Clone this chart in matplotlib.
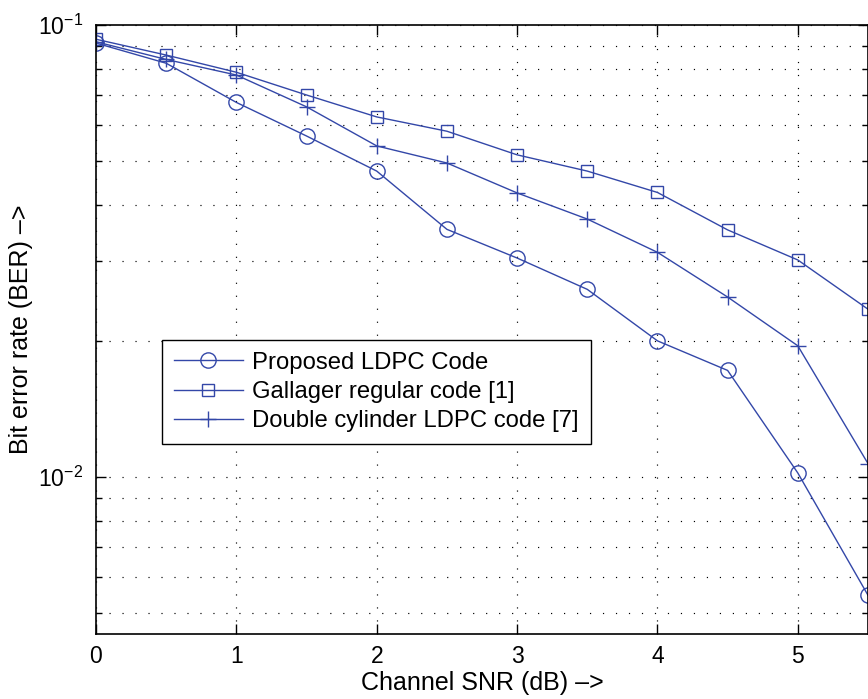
import matplotlib
matplotlib.use("Agg")
import matplotlib.pyplot as plt
from matplotlib.ticker import LogLocator, NullFormatter

plt.rcParams['font.family'] = ['Liberation Sans', 'DejaVu Sans']
plt.rcParams['mathtext.fontset'] = 'custom'
plt.rcParams['mathtext.rm'] = 'Liberation Sans'
plt.rcParams['mathtext.it'] = 'Liberation Sans'

snr = [0, 0.5, 1, 1.5, 2, 2.5, 3, 3.5, 4, 4.5, 5, 5.5]
proposed = [0.0912, 0.0823, 0.0674, 0.0568, 0.0475, 0.0353, 0.0305, 0.0260, 0.0200, 0.0172, 0.0102, 0.00547]
gallager = [0.0930, 0.0858, 0.0786, 0.0700, 0.0626, 0.0582, 0.0516, 0.0475, 0.0426, 0.0352, 0.0302, 0.0235]
double_cyl = [0.0918, 0.0839, 0.0775, 0.0659, 0.0540, 0.0495, 0.0425, 0.0372, 0.0314, 0.0250, 0.0195, 0.0107]
labels = ["Proposed LDPC Code", "Gallager regular code [1]", "Double cylinder LDPC code [7]"]
xticks = [0, 1, 2, 3, 4, 5]

color = '#3347a8'
fig = plt.figure(figsize=(8.68, 6.99), dpi=100)
ax = fig.add_axes([96/868, 1-634/699, 772/868, 609/699])

ax.semilogy(snr, proposed, '-', marker='o', color=color, lw=1.0, ms=11, mfc='none', mew=1.0, label=labels[0])
ax.semilogy(snr, gallager, '-', marker='s', color=color, lw=1.0, ms=9, mfc='none', mew=1.0, label=labels[1])
ax.semilogy(snr, double_cyl, '-', marker='+', color=color, lw=1.0, ms=12, mew=1.0, label=labels[2])

ax.set_xlim(0, 5.5)
ax.set_ylim(4.49e-3, 0.1)
ax.set_xticks(xticks)
ax.set_xticklabels([str(t) for t in xticks])
ax.yaxis.set_major_locator(LogLocator(base=10, numticks=10))
ax.yaxis.set_minor_locator(LogLocator(base=10, subs=[2, 3, 4, 5, 6, 7, 8, 9], numticks=20))
ax.yaxis.set_minor_formatter(NullFormatter())

dots = (0, (1, 10))
ax.grid(True, which='major', axis='both', linestyle=dots, color='black', lw=0.85)
ax.grid(True, which='minor', axis='y', linestyle=dots, color='black', lw=0.85)

ax.tick_params(which='both', direction='in', top=True, right=True, labelsize=16.5, width=1)
ax.tick_params(which='major', length=7)
ax.tick_params(which='minor', length=4)
ax.tick_params(axis='x', pad=8)
ax.tick_params(axis='y', pad=9)
for s in ax.spines.values():
    s.set_linewidth(1.2)

ax.set_xlabel("Channel SNR (dB) \u2013>", fontsize=18, labelpad=2)
ax.set_ylabel("Bit error rate (BER) \u2013>", fontsize=18, labelpad=4)

leg = ax.legend(loc='upper left', bbox_to_anchor=(0.085, 0.483), fontsize=17.2, fancybox=False,
                framealpha=1, edgecolor='black', borderaxespad=0, handlelength=2.9,
                labelspacing=0.3, borderpad=0.5, handletextpad=0.4)
leg.get_frame().set_linewidth(1.0)

fig.savefig("out.png", dpi=100)
